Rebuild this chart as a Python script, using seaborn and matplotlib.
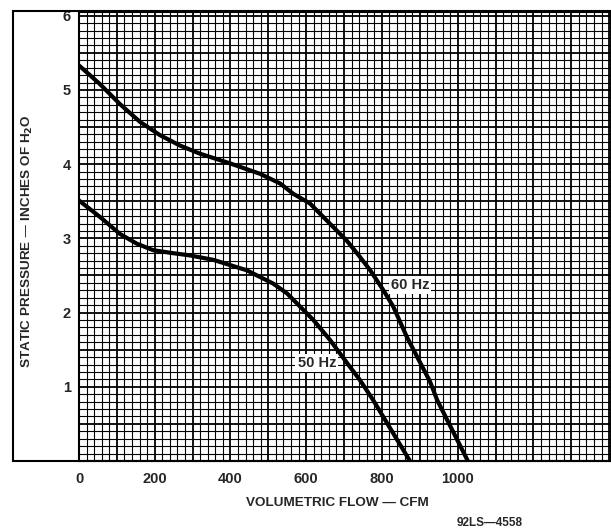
import matplotlib
matplotlib.use("Agg")
import matplotlib.pyplot as plt
from matplotlib.ticker import MultipleLocator, FuncFormatter
from matplotlib.patches import Rectangle
import seaborn as sns
import pandas as pd

# Fan curve readings (CFM, inches of H2O)
flow_60hz = [0, 55, 108, 161, 214, 267, 320, 399, 478, 531, 566, 610, 637, 672, 707,
             742, 769, 804, 830, 866, 927, 946, 1027]
pressure_60hz = [5.33, 5.08, 4.81, 4.57, 4.39, 4.25, 4.14, 4.01, 3.87, 3.74, 3.60, 3.47, 3.33,
                 3.15, 2.97, 2.75, 2.57, 2.30, 2.08, 1.67, 1.07, 0.82, 0.0]

flow_50hz = [0, 55, 108, 152, 196, 249, 293, 355, 399, 443, 478, 513, 549, 584, 619,
             663, 708, 742, 777, 874]
pressure_50hz = [3.51, 3.29, 3.06, 2.93, 2.84, 2.80, 2.77, 2.71, 2.64, 2.57, 2.48, 2.39, 2.26,
                 2.08, 1.90, 1.63, 1.32, 1.09, 0.82, 0.0]

x_labels = [0, 200, 400, 600, 800, 1000]
y_labels = [1, 2, 3, 4, 5, 6]

sns.set_style("white")
plt.rcParams['font.family'] = ['Liberation Sans', 'DejaVu Sans']
plt.rcParams['font.weight'] = 'bold'
plt.rcParams['mathtext.default'] = 'bf'

fig = plt.figure(figsize=(6.11, 5.29), dpi=100)
ax = fig.add_axes([79 / 611, 1 - 461 / 529, 532 / 611, 449 / 529])

df60 = pd.DataFrame({'flow': flow_60hz, 'pressure': pressure_60hz})
df50 = pd.DataFrame({'flow': flow_50hz, 'pressure': pressure_50hz})
sns.lineplot(data=df60, x='flow', y='pressure', color='black', linewidth=3, sort=False, ax=ax, zorder=3)
sns.lineplot(data=df50, x='flow', y='pressure', color='black', linewidth=3, sort=False, ax=ax, zorder=3)

ax.set_xlim(0, 1405)
ax.set_ylim(0, 6.05)

# graph paper grid
ax.xaxis.set_major_locator(MultipleLocator(100))
ax.xaxis.set_minor_locator(MultipleLocator(20))
ax.yaxis.set_major_locator(MultipleLocator(0.5))
ax.yaxis.set_minor_locator(MultipleLocator(0.1))
ax.xaxis.set_major_formatter(FuncFormatter(
    lambda v, p: f"{int(round(v))}" if round(v) in x_labels else ""))
ax.yaxis.set_major_formatter(FuncFormatter(
    lambda v, p: f"{int(round(v))}" if abs(v - round(v)) < 1e-6 and round(v) in y_labels else ""))
ax.grid(which='major', color='black', linewidth=1.3)
ax.grid(which='minor', color='black', linewidth=0.8)
ax.set_axisbelow(True)
ax.tick_params(which='both', length=0, labelsize=10.5)
ax.tick_params(axis='x', pad=8)
ax.tick_params(axis='y', pad=6)

for s in ax.spines.values():
    s.set_color('black')
    s.set_linewidth(1.5)

ax.set_xlabel('VOLUMETRIC FLOW — CFM', fontsize=9.7, fontweight='bold')
ax.set_ylabel('STATIC PRESSURE — INCHES OF H$_2$O', fontsize=9.7, fontweight='bold')
ax.xaxis.set_label_coords(0.485, -0.08)
ax.yaxis.set_label_coords(-0.083, 0.49)

ax.text(874, 2.37, '60 Hz', fontsize=10.5, fontweight='bold', ha='center', va='center', zorder=4,
        bbox=dict(facecolor='white', edgecolor='none', pad=1.5))
ax.text(628, 1.32, '50 Hz', fontsize=10.5, fontweight='bold', ha='center', va='center', zorder=4,
        bbox=dict(facecolor='white', edgecolor='none', pad=1.5))

# outer frame around the y axis labels
fig.patches.append(Rectangle((13 / 611, 1 - 461 / 529), 598 / 611, 450 / 529,
                             transform=fig.transFigure, fill=False, edgecolor='black',
                             linewidth=1.5, zorder=0))

fig.text(490 / 611, 1 - 523 / 529, '92LS—4558', fontsize=8.5, fontweight='bold',
         ha='center', va='center')

fig.savefig('out.png', dpi=100)
plt.close(fig)
